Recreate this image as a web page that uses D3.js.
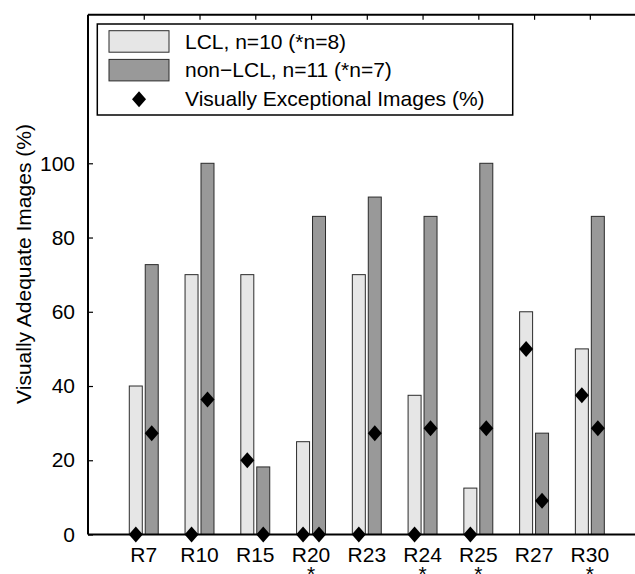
<!DOCTYPE html>
<html>
<head>
<meta charset="utf-8">
<script src="https://cdn.jsdelivr.net/npm/d3@7"></script>
<style>
  body { margin: 0; background: #fff; }
  text { font-family: "Liberation Sans", Arial, sans-serif; fill: #000; }
</style>
</head>
<body>
<div id="chart"></div>
<script>
// categories and values
var categories = ["R7", "R10", "R15", "R20", "R23", "R24", "R25", "R27", "R30"];
var starred = [false, false, false, true, false, true, true, false, true];
var lclAdequate = [40, 70, 70, 25, 70, 37.5, 12.5, 60, 50];
var nonLclAdequate = [72.7, 100, 18.2, 85.7, 90.9, 85.7, 100, 27.3, 85.7];
var lclExceptional = [0, 0, 20, 0, 0, 0, 0, 50, 37.5];
var nonLclExceptional = [27.3, 36.4, 0, 0, 27.3, 28.6, 28.6, 9.1, 28.6];
var yTicks = [0, 20, 40, 60, 80, 100];
var legendLabels = ["LCL, n=10 (*n=8)", "non\u2212LCL, n=11 (*n=7)", "Visually Exceptional Images (%)"];

var width = 635,
    height = 574,
    fontSize = 21;

var x = d3.scaleLinear().domain([0, 10]).range([88, 645.6]);
var y = d3.scaleLinear().domain([0, 140]).range([534.5, 14.8]);

var step = x(1) - x(0),
    barW = step * 0.233,
    off = step * 0.143;

var svg = d3.select("#chart").append("svg")
    .attr("width", width)
    .attr("height", height);

// bars
var groups = svg.selectAll("g.grp")
    .data(categories)
    .enter().append("g")
    .attr("class", "grp");

groups.append("rect")
    .attr("x", function (d, i) { return x(i + 1) - off - barW / 2; })
    .attr("y", function (d, i) { return y(lclAdequate[i]); })
    .attr("width", barW)
    .attr("height", function (d, i) { return y(0) - y(lclAdequate[i]); })
    .attr("fill", "#e6e6e6")
    .attr("stroke", "#2b2b2b")
    .attr("stroke-width", 1);

groups.append("rect")
    .attr("x", function (d, i) { return x(i + 1) + off - barW / 2; })
    .attr("y", function (d, i) { return y(nonLclAdequate[i]); })
    .attr("width", barW)
    .attr("height", function (d, i) { return y(0) - y(nonLclAdequate[i]); })
    .attr("fill", "#999999")
    .attr("stroke", "#2b2b2b")
    .attr("stroke-width", 1);

// frame + axes
var axisG = svg.append("g");
axisG.append("line")
    .attr("x1", x(0)).attr("x2", width + 5)
    .attr("y1", y(140)).attr("y2", y(140))
    .attr("stroke", "#000").attr("stroke-width", 2);
axisG.append("line")
    .attr("x1", x(0)).attr("x2", width + 5)
    .attr("y1", y(0)).attr("y2", y(0))
    .attr("stroke", "#000").attr("stroke-width", 2);
axisG.append("line")
    .attr("x1", x(0)).attr("x2", x(0))
    .attr("y1", y(140)).attr("y2", y(0))
    .attr("stroke", "#000").attr("stroke-width", 2);

var yAxis = d3.axisLeft(y).tickValues(yTicks).tickSizeInner(-5).tickSizeOuter(0).tickPadding(13);
svg.append("g")
    .attr("transform", "translate(" + x(0) + ",0)")
    .call(yAxis)
    .call(function (g) {
        g.select(".domain").remove();
        g.selectAll("line").attr("stroke", "#000").attr("stroke-width", 1.2);
        g.selectAll("text").style("font-size", fontSize + "px").attr("fill", "#000");
    });

var ticksIdx = d3.range(1, 11);
var topAxis = d3.axisBottom(x).tickValues(ticksIdx).tickSizeInner(5).tickSizeOuter(0).tickFormat("");
svg.append("g")
    .attr("transform", "translate(0," + y(140) + ")")
    .call(topAxis)
    .call(function (g) {
        g.select(".domain").remove();
        g.selectAll("line").attr("stroke", "#000").attr("stroke-width", 1.2);
    });

// x labels, asterisk on a second line for the n=8 / n=7 cases
var cat = svg.append("g").selectAll("text.cat")
    .data(categories)
    .enter().append("text")
    .attr("class", "cat")
    .attr("x", function (d, i) { return x(i + 1); })
    .attr("y", 561.5)
    .attr("text-anchor", "middle")
    .style("font-size", fontSize + "px");

cat.append("tspan")
    .text(function (d) { return d; });

cat.filter(function (d, i) { return starred[i]; })
    .append("tspan")
    .attr("x", function (d) { return x(categories.indexOf(d) + 1); })
    .attr("dy", 19.5)
    .text("*");

// y axis title
svg.append("text")
    .attr("transform", "translate(31," + 264 + ") rotate(-90)")
    .attr("text-anchor", "middle")
    .style("font-size", fontSize + "px")
    .text("Visually Adequate Images (%)");

// diamonds
var diamond = function (cx, cy) {
    return "M" + cx + "," + (cy - 8) + "L" + (cx + 7) + "," + cy + "L" + cx + "," + (cy + 8) + "L" + (cx - 7) + "," + cy + "Z";
};

svg.append("g").selectAll("path.dl")
    .data(lclExceptional)
    .enter().append("path")
    .attr("d", function (d, i) { return diamond(x(i + 1) - off, y(d)); })
    .attr("fill", "#000");

svg.append("g").selectAll("path.dn")
    .data(nonLclExceptional)
    .enter().append("path")
    .attr("d", function (d, i) { return diamond(x(i + 1) + off, y(d)); })
    .attr("fill", "#000");

// legend
var leg = svg.append("g");
leg.append("rect")
    .attr("x", 97.3).attr("y", 24)
    .attr("width", 415.4).attr("height", 91)
    .attr("fill", "#fff")
    .attr("stroke", "#000")
    .attr("stroke-width", 1.5);

var legFills = ["#e6e6e6", "#999999"];
leg.selectAll("rect.sw")
    .data(legFills)
    .enter().append("rect")
    .attr("class", "sw")
    .attr("x", 109)
    .attr("y", function (d, i) { return 30.7 + i * 28.7; })
    .attr("width", 60)
    .attr("height", 21.5)
    .attr("fill", function (d) { return d; })
    .attr("stroke", "#2b2b2b")
    .attr("stroke-width", 1);

leg.append("path")
    .attr("d", diamond(139, 99.3))
    .attr("fill", "#000");

leg.selectAll("text")
    .data(legendLabels)
    .enter().append("text")
    .attr("x", 185)
    .attr("y", function (d, i) { return 48.5 + i * 28.8; })
    .style("font-size", fontSize + "px")
    .text(function (d) { return d; });
</script>
</body>
</html>
